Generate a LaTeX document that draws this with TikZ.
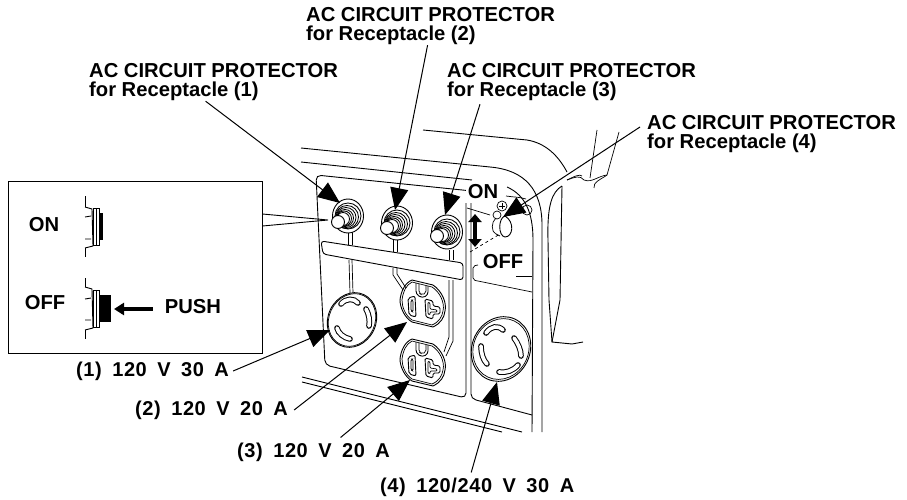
\documentclass[tikz,border=0pt]{standalone}
\usepackage{fontspec}
\setmainfont{Liberation Sans}
\newfontfamily\wideface[WordSpace=1.7, LetterSpace=3]{Liberation Sans}
\usetikzlibrary{arrows.meta}
\tikzset{label/.style = {font=\fontsize{20.2}{19.5}\selectfont\bfseries, inner sep=0pt, align=left},
         wide label/.style = {font=\fontsize{20}{20}\wideface\bfseries, inner sep=0pt, anchor=west},
         callout/.style = {line width=1pt, -{Triangle[length=22pt, width=18pt]}},
         edge/.style = {line width=.9pt},
         thin edge/.style = {line width=.7pt},
         slot/.style = {line width=1pt, double=white, double distance=3.6pt, line cap=round}}

\begin{document}
\begin{tikzpicture}[x=1pt, y=-1pt]
      \useasboundingbox (0, 0) rectangle (907, 500);

      % machine body
      \draw [edge] (423, 130) -- (527, 140) .. controls (545, 143) and (558, 155) .. (567, 172);
      \draw [edge] (301, 148) -- (490, 167) .. controls (525, 170) and (542, 190) .. (542, 225) -- (542, 432);
      \draw [edge] (301, 162) -- (472, 180);
      \draw [edge] (562, 186) -- (560, 300) -- (552, 342) -- (572, 344) -- (583, 342);
      \draw [edge] (562, 186) .. controls (552, 192) and (547, 205) .. (548, 240) -- (549, 300) -- (552, 342);
      \draw [thin edge] (567, 180) .. controls (575, 177) and (580, 175) .. (584, 180) .. controls (592, 183) and (598, 176) .. (607, 175);
      \draw [thin edge] (567, 180) .. controls (575, 176) and (580, 174) .. (582, 176);
      \draw [thin edge] (597, 130) -- (590, 178);
      \draw [thin edge] (619, 132) -- (607, 175) .. controls (600, 180) and (593, 182) .. (594, 188);
      \draw [edge] (302, 377) -- (522, 432);
      \draw [edge] (302, 382) -- (502, 432);

      % panels
      \draw [edge, rounded corners=5pt] (472, 191) -- (316, 175) -- (325, 365) -- (466, 398) -- (466, 203);
      \draw [edge] (471, 203) -- (471, 394) .. controls (471, 397) and (473, 399) .. (476, 400) -- (532, 415);
      \draw [edge] (507, 187) .. controls (525, 195) and (533, 212) .. (533, 240) -- (532, 432);
      \draw [thin edge] (526, 199) .. controls (520, 197) and (512, 197) .. (506, 196);
      \draw [thin edge, rounded corners=2pt] (478, 265) -- (473, 266) -- (473, 280) -- (532, 292);
      \draw [thin edge] (516, 276) -- (532, 276);
      \draw [edge, rounded corners=3pt] (321, 241) -- (463, 263) -- (463, 280) -- (323, 254) -- cycle;

      % stalks between protectors and receptacles
      \draw [thin edge] (348, 232) -- (348, 245);
      \draw [thin edge] (352, 232) -- (352, 245);
      \draw [thin edge] (349, 260) -- (350, 293);
      \draw [thin edge] (352, 260) -- (353, 293);
      \draw [thin edge] (393, 240) -- (393, 252);
      \draw [thin edge] (397, 240) -- (397, 252);
      \draw [thin edge] (393, 268) -- (393, 275) -- (403, 290);
      \draw [thin edge] (397, 268) -- (397, 274) -- (406, 288);
      \draw [thin edge] (449, 250) -- (449, 260);
      \draw [thin edge] (453, 250) -- (453, 260);
      \draw [thin edge] (449, 280) -- (449, 337) -- (444, 352);
      \draw [thin edge] (453, 280) -- (453, 341) -- (446, 356);

      % protectors
      \foreach \x/\y/\kx/\ky in {348/216/338/222, 397/223/387/228, 447/232/437/236} {
        \draw [edge, fill=white] (\x, \y) ellipse [x radius=15.5, y radius=17];
        \foreach \r/\dx/\dy in {13/0/0, 11.5/-1/1, 10/-2/1.5, 8.5/-3/2, 7.5/-4/2.5, 6.5/-5/3}
          \draw [line width=.85pt] (\x + \dx, \y + \dy) circle [radius=\r];
        \draw [edge, fill=white] (\kx, \ky) circle [radius=6.5];
      }

      % receptacle (1)
      \draw [edge, rotate around={-25:(352, 320)}] (352, 320) ellipse [x radius=24, y radius=28];
      \draw [thin edge, rotate around={-25:(352, 320)}] (352, 320) ellipse [x radius=23, y radius=27];
      \draw [slot] (341, 304) .. controls (346, 298) and (354, 298) .. (358, 303);
      \draw [slot] (366, 309) .. controls (369, 314) and (370, 321) .. (369, 326);
      \draw [slot] (337, 328) .. controls (338, 333) and (344, 338) .. (350, 339);

      % receptacles (2), (3)
      \foreach \y in {303, 362} {
        \draw [edge] (412, \y - 23) -- (433, \y - 18) .. controls (442, \y - 12) and (447, \y) .. (445, \y + 8) .. controls (444, \y + 15) and (441, \y + 20) .. (433, \y + 24) -- (412, \y + 19) .. controls (404, \y + 14) and (400, \y + 4) .. (400, \y - 3) .. controls (401, \y - 12) and (405, \y - 20) .. (412, \y - 23) -- cycle;
        \draw [thin edge] (412, \y - 21) -- (432, \y - 16) .. controls (440, \y - 11) and (445, \y) .. (443, \y + 8) .. controls (442, \y + 14) and (439, \y + 19) .. (432, \y + 22) -- (412, \y + 17) .. controls (405, \y + 12) and (402, \y + 4) .. (402, \y - 3) .. controls (403, \y - 11) and (406, \y - 18) .. (412, \y - 21) -- cycle;
        \draw [edge, rounded corners=3pt] (416, \y - 20) -- (416, \y - 9) -- (422, \y - 5) -- (428, \y - 8) -- (428, \y - 17);
        \draw [thin edge, rounded corners=2pt] (419, \y - 19) -- (419, \y - 10) -- (422, \y - 8) -- (426, \y - 10) -- (426, \y - 17);
        \draw [edge, rounded corners=2pt] (408, \y - 5) -- (415, \y - 7) -- (416, \y + 14) -- (409, \y + 12) -- cycle;
        \draw [thin edge, rounded corners=1.5pt] (411, \y - 3) -- (413, \y - 3) -- (413, \y + 9) -- (411, \y + 8) -- cycle;
        \draw [edge, rounded corners=1.5pt] (425, \y - 4) -- (433, \y - 2) -- (433, \y + 3) -- (440, \y + 4) -- (440, \y + 11) -- (433, \y + 11) -- (433, \y + 16) -- (426, \y + 14) -- cycle;
        \draw [thin edge, rounded corners=1pt] (428, \y - 1) -- (430, \y) -- (430, \y + 6) -- (437, \y + 7) -- (437, \y + 9) -- (430, \y + 9) -- (430, \y + 12) -- (428, \y + 11) -- cycle;
      }

      % receptacle (4)
      \draw [edge, rotate around={-25:(501, 349)}] (501, 349) ellipse [x radius=29, y radius=33];
      \draw [thin edge, rotate around={-25:(501, 349)}] (501, 349) ellipse [x radius=27.5, y radius=31];
      \draw [slot] (486, 333) .. controls (491, 326) and (498, 325) .. (503, 330);
      \draw [slot] (514, 338) .. controls (518, 343) and (521, 350) .. (521, 356);
      \draw [slot] (481, 346) .. controls (481, 353) and (483, 360) .. (487, 364);
      \draw [slot] (499, 372) .. controls (506, 373) and (513, 371) .. (518, 365);

      % protector (4)
      \draw [thin edge] (467, 208) -- (490, 215);
      \draw [thin edge, dashed] (470, 252) -- (500, 234);
      \draw [edge] (505, 216) .. controls (515, 222) and (513, 237) .. (505, 237) .. controls (498, 236) and (498, 218) .. (505, 216);
      \draw [thin edge] (496, 218) .. controls (491, 222) and (491, 232) .. (496, 234);
      \draw [thin edge] (500, 236) -- (496, 234);
      \draw [thin edge] (497, 215) circle [radius=4];
      \draw [thin edge] (502, 206) circle [radius=5];
      \draw [thin edge] (499, 206) -- (505, 206) (502, 203) -- (502, 209);
      \draw [thin edge] (527, 210) circle [radius=5];
      \draw [line width=4.5pt, {Triangle[length=8pt, width=13pt]}-{Triangle[length=8pt, width=13pt]}] (475, 214) -- (475, 247);

      % inset
      \node [draw, line width=1pt, minimum width=254pt, minimum height=172pt, inner sep=0pt] (inset) at (135, 267) {};
      \coordinate (insettip) at (328, 220);
      \draw [edge] (inset.east |- 0, 214) -- (insettip) -- (inset.east |- 0, 226);

      \draw [edge] (85, 196) -- (85, 257);
      \draw [edge, fill=white] (85, 207) -- (92, 209) -- (93, 246) -- (85, 248);
      \draw [edge] (85, 217) -- (91, 216) (85, 239) -- (91, 239);
      \draw [edge] (93, 208) rectangle (99, 245);
      \draw [thin edge] (96, 208) -- (96, 245);
      \fill (99, 213) rectangle (103, 240);

      \draw [edge] (85, 278) -- (85, 339);
      \draw [edge, fill=white] (85, 287) -- (92, 289) -- (93, 328) -- (85, 330);
      \draw [edge] (85, 299) -- (91, 298) (85, 320) -- (91, 320);
      \draw [edge] (93, 290) rectangle (99, 327);
      \draw [thin edge] (96, 290) -- (96, 327);
      \fill (99, 295) rectangle (111, 322);

      \node [label] (on) at (44, 225) {ON};
      \node [label] (off) at (45, 303) {OFF};
      \node [label] (push) at (193, 307) {PUSH};
      \coordinate (pushtip) at (114, 309);
      \draw [line width=3.5pt, -{Triangle[length=10pt, width=12pt]}] (push.west |- pushtip) ++(-12, 0) -- (pushtip);

      % panel labels
      \node [label, fill=white, inner sep=2pt] (panelon) at (483, 192) {ON};
      \node [label, fill=white, inner sep=2pt] (paneloff) at (503, 262) {OFF};

      % callouts
      \node [label, anchor=north west] (lab2) at (306, 7) {AC CIRCUIT PROTECTOR\\for Receptacle (2)};
      \node [label, anchor=north west] (lab1) at (89, 63) {AC CIRCUIT PROTECTOR\\for Receptacle (1)};
      \node [label, anchor=north west] (lab3) at (447, 63) {AC CIRCUIT PROTECTOR\\for Receptacle (3)};
      \node [label, anchor=north west] (lab4) at (647, 115) {AC CIRCUIT PROTECTOR\\for Receptacle (4)};
      \node [wide label] (rec1) at (76, 371) {(1) 120 V 30 A};
      \node [wide label] (rec2) at (135, 410) {(2) 120 V 20 A};
      \node [wide label] (rec3) at (237, 452) {(3) 120 V 20 A};
      \node [wide label] (rec4) at (380, 487) {(4) 120/240 V 30 A};

      \coordinate (tip1) at (340, 203);
      \coordinate (tip2) at (395, 210);
      \coordinate (tip3) at (445, 215);
      \coordinate (tip4) at (503, 217);
      \coordinate (rtip1) at (330, 330);
      \coordinate (rtip2) at (407, 322);
      \coordinate (rtip3) at (410, 380);
      \coordinate (rtip4) at (497, 382);

      \draw [callout] ([xshift=-8pt]lab1.south) -- (tip1);
      \draw [callout] ([xshift=-3pt]lab2.south) -- (tip2);
      \draw [callout] ([xshift=33pt, yshift=-3pt]lab3.south west) -- (tip3);
      \draw [callout] (lab4.north west) ++(-7, 12) -- (tip4);
      \draw [callout] ([xshift=4pt]rec1.east) -- (rtip1);
      \draw [callout] ([xshift=6pt]rec2.east) -- (rtip2);
      \draw [callout] ([xshift=27pt, yshift=5pt]rec3.north) -- (rtip3);
      \draw [callout] ([xshift=-6pt, yshift=5pt]rec4.north) -- (rtip4);
    \end{tikzpicture}
\end{document}
